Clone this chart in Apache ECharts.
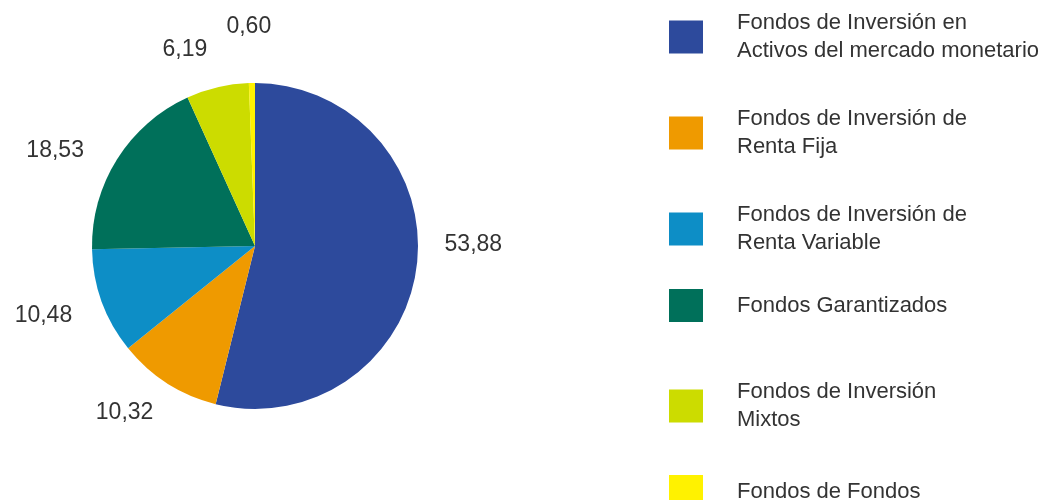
<!DOCTYPE html>
<html>
<head>
<meta charset="utf-8">
<script src="https://cdn.jsdelivr.net/npm/echarts@6/dist/echarts.min.js"></script>
<style>
    html, body { margin: 0; padding: 0; background: #fff; }
    #chart { width: 1050px; height: 500px; }
</style>
</head>
<body>
<div id="chart"></div>
<script>
// data
const categories = [
    'Fondos de Inversión en\nActivos del mercado monetario',
    'Fondos de Inversión de\nRenta Fija',
    'Fondos de Inversión de\nRenta Variable',
    'Fondos Garantizados',
    'Fondos de Inversión\nMixtos',
    'Fondos de Fondos'
];
const values = [53.88, 10.32, 10.48, 18.53, 6.19, 0.60];
const colors = ['#2d4a9c', '#ef9a00', '#0d8ec6', '#00705a', '#ccdc00', '#fff200'];

// legend layout (one legend box per entry, the spacing in the picture is uneven)
const legendTops = [9, 105, 201, 289, 378, 475];
// small shifts of the value labels from their mid-angle spot
const labelNudge = [[-2, -28], [-11, -20], [-3, -6], [-12, 23], [-19, 20], [-2, 3]];

function buildData(transparent) {
    let arr = [];
    for (let i = 0; i < categories.length; i++) {
        arr.push({
            name: categories[i],
            value: values[i],
            itemStyle: {
                color: transparent ? 'transparent' : colors[i]
            }
        });
    }
    return arr;
}

function buildLegends() {
    let legends = [];
    for (let i = 0; i < categories.length; i++) {
        legends.push({
            data: [{ name: categories[i], icon: 'rect' }],
            left: 669,
            top: legendTops[i],
            padding: 0,
            itemWidth: 34,
            itemHeight: 33,
            selectedMode: false,
            textStyle: {
                fontFamily: 'Liberation Sans',
                fontSize: 22,
                lineHeight: 28,
                color: '#333',
                padding: [0, 0, 0, 29]
            }
        });
    }
    return legends;
}

let dom = document.getElementById('chart');
let myChart = echarts.init(dom, null, { renderer: 'canvas' });

option = {
    animation: false,
    color: colors,
    legend: buildLegends(),
    series: [
        {
            name: 'Fondos',
            type: 'pie',
            center: [255, 246],
            radius: [0, 163],
            startAngle: 90,
            clockwise: true,
            silent: true,
            label: { show: false },
            labelLine: { show: false },
            data: buildData(false)
        },
        {
            // invisible ring only used to carry the value labels outside the pie
            name: 'labels',
            type: 'pie',
            center: [255, 246],
            radius: [163, 275],
            startAngle: 90,
            clockwise: true,
            silent: true,
            label: {
                show: true,
                position: 'inside',
                fontFamily: 'Liberation Sans',
                fontSize: 23,
                color: '#333',
                formatter: function (p) {
                    return p.value.toFixed(2).replace('.', ',');
                }
            },
            labelLayout: function (p) {
                let n = labelNudge[p.dataIndex];
                return { dx: n[0], dy: n[1] };
            },
            labelLine: { show: false },
            data: buildData(true)
        }
    ]
};

if (option && typeof option === 'object') {
    myChart.setOption(option);
}
window.addEventListener('resize', myChart.resize);
</script>
</body>
</html>
